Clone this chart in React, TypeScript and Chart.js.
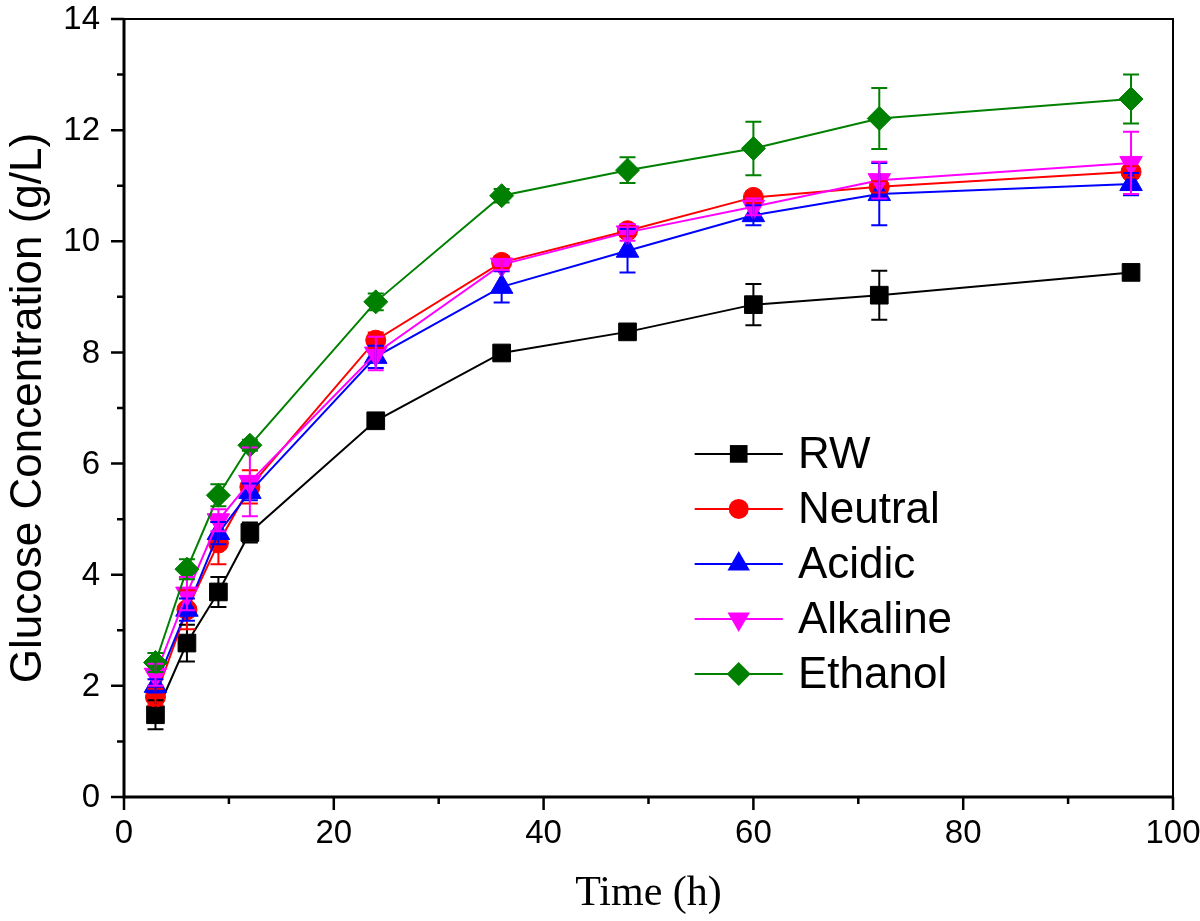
import React, { useEffect, useRef } from 'react';
import { Chart, registerables } from 'chart.js';

Chart.register(...registerables);

// ---- Data ----
const times = [3, 6, 9, 12, 24, 36, 48, 60, 72, 96];

const rwValues = [1.48, 2.77, 3.69, 4.76, 6.77, 7.99, 8.37, 8.86, 9.03, 9.44];
const rwErrors = [0.26, 0.33, 0.27, 0.18, 0.08, 0.08, 0.08, 0.37, 0.44, 0.08];

const neutralValues = [1.8, 3.37, 4.57, 5.58, 8.22, 9.62, 10.19, 10.79, 10.98, 11.25];
const neutralErrors = [0.15, 0.35, 0.38, 0.3, 0.14, 0.1, 0.1, 0.1, 0.1, 0.1];

const acidicValues = [2.0, 3.37, 4.75, 5.49, 7.92, 9.18, 9.83, 10.47, 10.85, 11.03];
const acidicErrors = [0.12, 0.2, 0.2, 0.15, 0.2, 0.28, 0.39, 0.18, 0.56, 0.2];

const alkalineValues = [2.2, 3.66, 4.98, 5.67, 7.98, 9.58, 10.16, 10.62, 11.1, 11.41];
const alkalineErrors = [0.2, 0.3, 0.2, 0.62, 0.3, 0.1, 0.15, 0.15, 0.33, 0.56];

const ethanolValues = [2.42, 4.1, 5.43, 6.33, 8.91, 10.82, 11.28, 11.67, 12.21, 12.56];
const ethanolErrors = [0.17, 0.18, 0.2, 0.1, 0.15, 0.12, 0.23, 0.48, 0.55, 0.44];

const seriesNames = ['RW', 'Neutral', 'Acidic', 'Alkaline', 'Ethanol'];
const seriesColors = ['#000000', '#ff0000', '#0000ff', '#ff00ff', '#008000'];
const seriesStyles = ['rect', 'circle', 'triangle', 'triangle', 'rectRot'];
const seriesRotations = [0, 0, 0, 180, 0];
const seriesRadii = [12.5, 10, 13, 13, 12];
const seriesValues = [rwValues, neutralValues, acidicValues, alkalineValues, ethanolValues];
const seriesErrors = [rwErrors, neutralErrors, acidicErrors, alkalineErrors, ethanolErrors];

const xTickLabels = ['0', '20', '40', '60', '80', '100'];
const yTickLabels = ['0', '2', '4', '6', '8', '10', '12', '14'];

const xMin = 0;
const xMax = 100;
const xMajorStep = 20;
const xMinorStep = 10;
const yMin = 0;
const yMax = 14;
const yMajorStep = 2;
const yMinorStep = 1;

const xTitle = 'Time (h)';
const yTitle = 'Glucose Concentration (g/L)';

const SANS = '"Liberation Sans", Arial, Helvetica, sans-serif';
const SERIF = '"Liberation Serif", "Times New Roman", serif';

function drawMarker(ctx: CanvasRenderingContext2D, style: string, rot: number, x: number, y: number, r: number) {
  ctx.beginPath();
  if (style === 'circle') {
    ctx.arc(x, y, r, 0, Math.PI * 2);
  } else if (style === 'rect') {
    const s = r * Math.SQRT1_2;
    ctx.rect(x - s, y - s, 2 * s, 2 * s);
  } else if (style === 'rectRot') {
    ctx.moveTo(x, y - r);
    ctx.lineTo(x + r, y);
    ctx.lineTo(x, y + r);
    ctx.lineTo(x - r, y);
    ctx.closePath();
  } else if (style === 'triangle') {
    const base = (rot * Math.PI) / 180;
    for (let k = 0; k < 3; k++) {
      const a = base + (k * 2 * Math.PI) / 3;
      const px = x + Math.sin(a) * r;
      const py = y - Math.cos(a) * r;
      if (k === 0) ctx.moveTo(px, py);
      else ctx.lineTo(px, py);
    }
    ctx.closePath();
  }
  ctx.fill();
}

const frameTicksPlugin = {
  id: 'frameTicks',
  afterDraw(chart: any) {
    const { ctx, chartArea } = chart;
    const xs = chart.scales.x;
    const ys = chart.scales.y;
    const { left, right, top, bottom } = chartArea;
    ctx.save();
    ctx.strokeStyle = '#000';
    ctx.lineWidth = 2;
    ctx.beginPath();
    ctx.moveTo(left, top);
    ctx.lineTo(right, top);
    ctx.lineTo(right, bottom);
    ctx.stroke();
    ctx.lineWidth = 3;
    ctx.beginPath();
    ctx.moveTo(left, top - 1);
    ctx.lineTo(left, bottom);
    ctx.lineTo(right + 1, bottom);
    ctx.stroke();
    ctx.lineWidth = 2.5;
    ctx.beginPath();
    for (let v = xMin; v <= xMax + 1e-9; v += xMinorStep) {
      const px = xs.getPixelForValue(v);
      const major = Math.abs(v / xMajorStep - Math.round(v / xMajorStep)) < 1e-6;
      ctx.moveTo(px, bottom);
      ctx.lineTo(px, bottom + (major ? 13 : 7));
    }
    for (let v = yMin; v <= yMax + 1e-9; v += yMinorStep) {
      const py = ys.getPixelForValue(v);
      const major = Math.abs(v / yMajorStep - Math.round(v / yMajorStep)) < 1e-6;
      ctx.moveTo(left, py);
      ctx.lineTo(left - (major ? 13 : 7), py);
    }
    ctx.stroke();

    // tick labels
    ctx.fillStyle = '#000';
    ctx.font = `33px ${SANS}`;
    ctx.textBaseline = 'middle';
    ctx.textAlign = 'center';
    xTickLabels.forEach((lab) => {
      const px = xs.getPixelForValue(Number(lab));
      ctx.fillText(lab, px, bottom + 37);
    });
    ctx.textAlign = 'right';
    yTickLabels.forEach((lab) => {
      const py = ys.getPixelForValue(Number(lab));
      ctx.fillText(lab, left - 24, py + 1);
    });
    ctx.restore();
  },
};

const errorBarsPlugin = {
  id: 'errorBars',
  afterDatasetsDraw(chart: any) {
    const { ctx } = chart;
    const xs = chart.scales.x;
    const ys = chart.scales.y;
    ctx.save();
    ctx.lineWidth = 2;
    seriesValues.forEach((vals, i) => {
      ctx.strokeStyle = seriesColors[i];
      ctx.beginPath();
      vals.forEach((v, j) => {
        const e = seriesErrors[i][j];
        const px = xs.getPixelForValue(times[j]);
        const pt = ys.getPixelForValue(v + e);
        const pb = ys.getPixelForValue(v - e);
        ctx.moveTo(px, pt);
        ctx.lineTo(px, pb);
        ctx.moveTo(px - 8, pt);
        ctx.lineTo(px + 8, pt);
        ctx.moveTo(px - 8, pb);
        ctx.lineTo(px + 8, pb);
      });
      ctx.stroke();
    });
    ctx.restore();
  },
};

const legendPlugin = {
  id: 'customLegend',
  afterDraw(chart: any) {
    const { ctx, chartArea } = chart;
    const w = chartArea.right - chartArea.left;
    const h = chartArea.bottom - chartArea.top;
    const x0 = chartArea.left + 0.544 * w;
    const x1 = chartArea.left + 0.628 * w;
    const xm = (x0 + x1) / 2;
    const xt = chartArea.left + 0.6425 * w;
    const y0 = chartArea.top + 0.559 * h;
    const dy = 0.0707 * h;
    ctx.save();
    ctx.font = `44px ${SANS}`;
    ctx.textBaseline = 'middle';
    ctx.textAlign = 'left';
    seriesNames.forEach((name, i) => {
      const y = y0 + i * dy;
      ctx.strokeStyle = seriesColors[i];
      ctx.fillStyle = seriesColors[i];
      ctx.lineWidth = 2;
      ctx.beginPath();
      ctx.moveTo(x0, y);
      ctx.lineTo(x1, y);
      ctx.stroke();
      drawMarker(ctx, seriesStyles[i], seriesRotations[i], xm, y, seriesRadii[i]);
      ctx.fillStyle = '#000';
      ctx.fillText(name, xt, y + 2);
    });
    ctx.restore();
  },
};

export default function App() {
  const canvasRef = useRef<HTMLCanvasElement | null>(null);

  useEffect(() => {
    document.body.style.margin = '0';
    const canvas = canvasRef.current;
    if (!canvas) return;
    const datasets = seriesNames.map((name, i) => ({
      label: name,
      data: times.map((t, j) => ({ x: t, y: seriesValues[i][j] })),
      borderColor: seriesColors[i],
      backgroundColor: seriesColors[i],
      pointBackgroundColor: seriesColors[i],
      pointBorderColor: seriesColors[i],
      pointBorderWidth: 1,
      pointStyle: seriesStyles[i],
      pointRotation: seriesRotations[i],
      pointRadius: seriesRadii[i],
      pointHoverRadius: seriesRadii[i],
      borderWidth: 2,
      tension: 0,
      fill: false,
      order: seriesNames.length - 1 - i,
    }));

    const chart = new Chart(canvas, {
      type: 'line',
      data: { datasets },
      options: {
        animation: false,
        responsive: true,
        maintainAspectRatio: false,
        layout: { padding: { top: 19, right: 27, left: 0, bottom: 0 } },
        plugins: {
          legend: { display: false },
          tooltip: { enabled: false },
        },
        scales: {
          x: {
            type: 'linear',
            min: xMin,
            max: xMax,
            grid: { display: false, drawTicks: false },
            border: { display: false },
            ticks: { display: false, stepSize: xMajorStep },
            title: {
              display: true,
              text: xTitle,
              color: '#000',
              font: { family: SERIF, size: 42 },
              padding: { top: 0, bottom: 2 },
            },
            afterFit: (scale: any) => {
              scale.height = 124;
            },
          },
          y: {
            type: 'linear',
            min: yMin,
            max: yMax,
            grid: { display: false, drawTicks: false },
            border: { display: false },
            ticks: { display: false, stepSize: yMajorStep },
            title: {
              display: true,
              text: yTitle,
              color: '#000',
              font: { family: SANS, size: 44 },
              padding: { top: 2, bottom: 0 },
            },
            afterFit: (scale: any) => {
              scale.width = 124;
            },
          },
        },
      },
      plugins: [frameTicksPlugin, errorBarsPlugin, legendPlugin],
    } as any);

    return () => {
      chart.destroy();
    };
  }, []);

  return (
    <div style={{ position: 'fixed', left: 0, top: 0, width: 1200, height: 921, background: '#fff' }}>
      <canvas ref={canvasRef} />
    </div>
  );
}
